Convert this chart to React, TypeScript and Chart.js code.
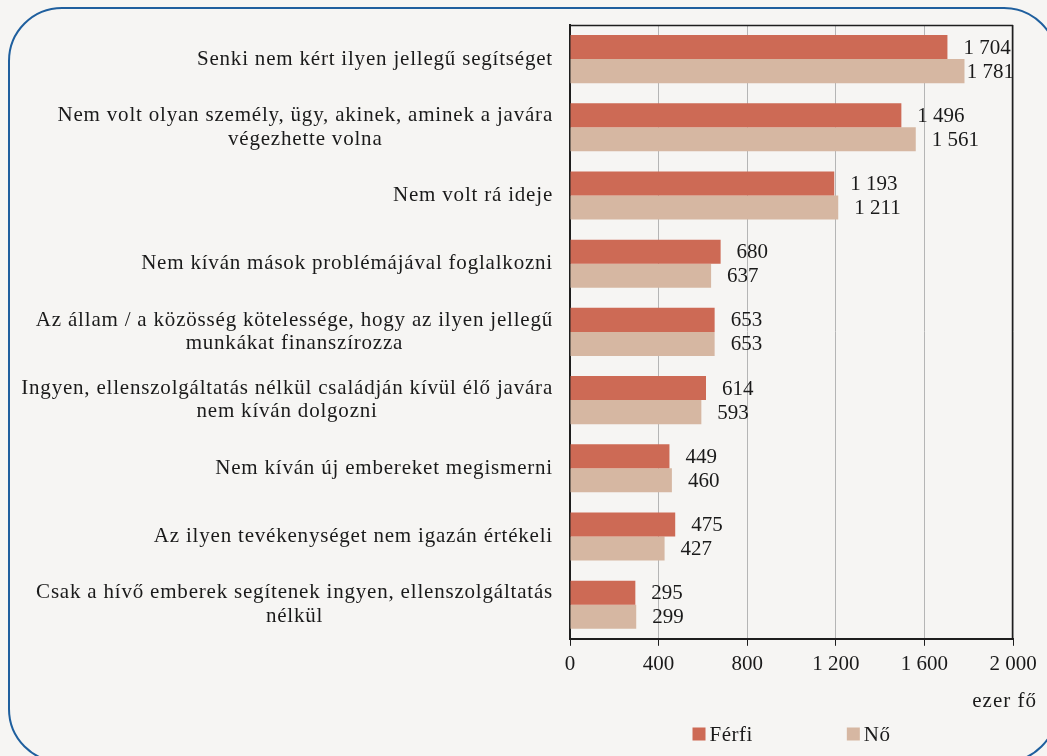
import React, { useEffect, useRef } from "react";
import { Chart, registerables } from "chart.js";

Chart.register(...registerables);

const categories: (string | string[])[] = [
  "Senki nem kért ilyen jellegű segítséget",
  ["Nem volt olyan személy, ügy, akinek, aminek a javára", "végezhette volna"],
  "Nem volt rá ideje",
  "Nem kíván mások problémájával foglalkozni",
  ["Az állam / a közösség kötelessége, hogy az ilyen jellegű", "munkákat finanszírozza"],
  ["Ingyen, ellenszolgáltatás nélkül családján kívül élő javára", "nem kíván dolgozni"],
  "Nem kíván új embereket megismerni",
  "Az ilyen tevékenységet nem igazán értékeli",
  ["Csak a hívő emberek segítenek ingyen, ellenszolgáltatás", "nélkül"],
];

const ferfiValues = [1704, 1496, 1193, 680, 653, 614, 449, 475, 295];
const noValues = [1781, 1561, 1211, 637, 653, 593, 460, 427, 299];

const seriesNames = ["Férfi", "Nő"];
const xMin = 0;
const xMax = 2000;
const xStep = 400;
const axisTitle = "ezer fő";

const COLORS = ["#cd6a55", "#d6b7a2"];
const TEXT = "#1a1a1a";
const FONT_FAMILY = "'Liberation Serif', 'Times New Roman', serif";
const FONT_SIZE = 21;

function fmt(v: number): string {
  return String(Math.round(v)).replace(/\B(?=(\d{3})+(?!\d))/g, " ");
}

const customPlugin = {
  id: "customDraw",
  afterDraw(chart: any) {
    const ctx = chart.ctx as any;
    const { left, right, top, bottom } = chart.chartArea;
    ctx.save();

    // top + right frame
    ctx.strokeStyle = "#1e1e1e";
    ctx.lineWidth = 1.5;
    ctx.beginPath();
    ctx.moveTo(left, top + 0.5);
    ctx.lineTo(right, top + 0.5);
    ctx.moveTo(right - 0.5, top);
    ctx.lineTo(right - 0.5, bottom);
    ctx.stroke();

    ctx.font = `${FONT_SIZE}px ${FONT_FAMILY}`;
    ctx.fillStyle = TEXT;
    ctx.textBaseline = "middle";

    // category labels
    ctx.letterSpacing = "0.8px";
    const ys = chart.scales.y;
    (chart.data.labels as (string | string[])[]).forEach((lab, i) => {
      const lines = Array.isArray(lab) ? lab : [lab];
      const w = Math.max(...lines.map((l) => ctx.measureText(l).width));
      const cx = left - 17 - w / 2;
      const yc = ys.getPixelForValue(i);
      const lh = 23.5;
      ctx.textAlign = "center";
      lines.forEach((l, k) => {
        ctx.fillText(l, cx, yc + (k - (lines.length - 1) / 2) * lh);
      });
    });

    // value labels
    ctx.letterSpacing = "0px";
    ctx.textAlign = "left";
    chart.data.datasets.forEach((ds: any, d: number) => {
      chart.getDatasetMeta(d).data.forEach((el: any, i: number) => {
        const t = fmt(ds.data[i]);
        const tw = ctx.measureText(t).width;
        let x = el.x + 16;
        if (x + tw > right + 1) x = right + 1 - tw;
        ctx.fillText(t, x, el.y + 1);
      });
    });

    // axis title
    const xs = chart.scales.x;
    ctx.letterSpacing = "1px";
    ctx.textAlign = "right";
    ctx.fillText(axisTitle, right + 24, xs.bottom + 18);

    // legend
    ctx.letterSpacing = "0.5px";
    const items = chart.data.datasets.map((ds: any) => ({
      text: ds.label as string,
      color: ds.backgroundColor as string,
    }));
    const box = 13;
    const gapBoxText = 4;
    const gapItems = 94;
    const widths = items.map((it: any) => box + gapBoxText + ctx.measureText(it.text).width);
    const total = widths.reduce((a: number, b: number) => a + b, 0) + gapItems * (items.length - 1);
    let lx = (left + right) / 2 - total / 2;
    const ly = xs.bottom + 51;
    ctx.textAlign = "left";
    items.forEach((it: any, k: number) => {
      ctx.fillStyle = it.color;
      ctx.fillRect(lx, ly - box / 2, box, box);
      ctx.fillStyle = TEXT;
      ctx.fillText(it.text, lx + box + gapBoxText, ly + 1);
      lx += widths[k] + gapItems;
    });

    ctx.restore();
  },
};

export default function App() {
  const canvasRef = useRef<HTMLCanvasElement | null>(null);

  useEffect(() => {
    document.body.style.margin = "0";
    const canvas = canvasRef.current;
    if (!canvas) return;
    const chart = new Chart(canvas, {
      type: "bar",
      data: {
        labels: categories as any,
        datasets: [
          {
            label: seriesNames[0],
            data: ferfiValues,
            backgroundColor: COLORS[0],
            borderWidth: 0,
            categoryPercentage: 0.705,
            barPercentage: 1.0,
          },
          {
            label: seriesNames[1],
            data: noValues,
            backgroundColor: COLORS[1],
            borderWidth: 0,
            categoryPercentage: 0.705,
            barPercentage: 1.0,
          },
        ],
      },
      options: {
        indexAxis: "y",
        animation: false,
        responsive: false,
        devicePixelRatio: 1,
        layout: { padding: { left: 570, right: 34, top: 25, bottom: 73 } },
        plugins: {
          legend: { display: false },
          tooltip: { enabled: false },
        },
        scales: {
          x: {
            min: xMin,
            max: xMax,
            ticks: {
              stepSize: xStep,
              color: TEXT,
              padding: 6,
              font: { family: FONT_FAMILY, size: FONT_SIZE },
              callback: (v: any) => fmt(Number(v)),
            },
            grid: {
              color: "#b5b5b5",
              lineWidth: 1,
              tickLength: 7,
              tickColor: "#1e1e1e",
              drawTicks: true,
            },
            border: { color: "#1e1e1e", width: 2 },
          },
          y: {
            ticks: { display: false },
            grid: { display: false, drawTicks: false },
            border: { color: "#1e1e1e", width: 2 },
          },
        },
      },
      plugins: [customPlugin],
    });
    return () => chart.destroy();
  }, []);

  return (
    <div
      style={{
        position: "absolute",
        left: 0,
        top: 0,
        width: 1047,
        height: 756,
        overflow: "hidden",
        background: "#f6f5f3",
      }}
    >
      <div
        style={{
          position: "absolute",
          left: 8,
          top: 7,
          width: 1046,
          height: 752,
          border: "2.5px solid #1f5f9e",
          borderRadius: 54,
        }}
      />
      <canvas
        ref={canvasRef}
        width={1047}
        height={756}
        style={{ position: "absolute", left: 0, top: 0, width: 1047, height: 756 }}
      />
    </div>
  );
}
